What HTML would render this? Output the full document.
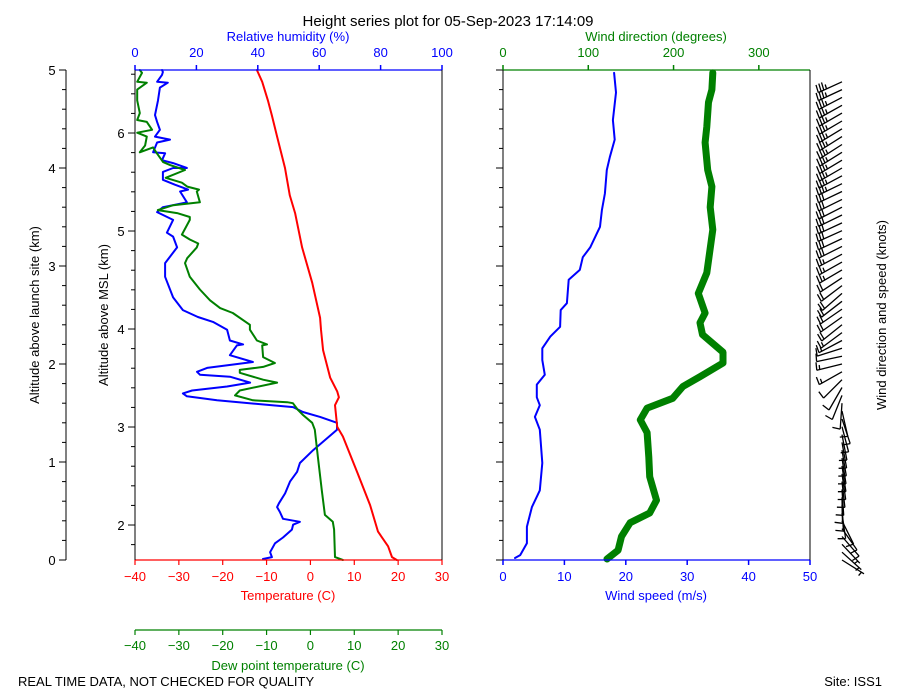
<!DOCTYPE html>
<html><head><meta charset="utf-8"><style>
html,body{margin:0;padding:0;background:#fff;}
svg{display:block;font-family:"Liberation Sans","DejaVu Sans",sans-serif;}
</style></head><body>
<svg id="chart" width="900" height="700" viewBox="0 0 900 700" xmlns="http://www.w3.org/2000/svg">
<text x="448" y="26" font-size="15" text-anchor="middle">Height series plot for 05-Sep-2023 17:14:09</text>
<g id="g"></g>
<text x="18" y="686" font-size="13">REAL TIME DATA, NOT CHECKED FOR QUALITY</text>
<text x="882" y="686" font-size="13" text-anchor="end">Site: ISS1</text>
</svg>
<script>
// ---- data (altitude above launch site, km) ----
const tempAlt = [0,0.03,0.14,0.29,0.56,0.88,1.26,1.36,1.58,1.66,1.72,1.86,2.14,2.35,2.47,2.83,3.19,3.54,3.72,4.0,4.32,4.54,4.69,4.88,5.0];
const tempVal = [19.7,18.6,17.7,15.4,13.6,10.8,7.4,6.1,5.6,6.5,6.1,4.5,2.9,2.4,2.2,0.4,-1.9,-3.5,-4.7,-5.8,-7.6,-8.8,-9.7,-11.0,-12.2];
const dewAlt = [0,0.03,0.31,0.39,0.46,0.71,1.05,1.33,1.40,1.48,1.53,1.60,1.61,1.63,1.68,1.73,1.81,1.84,1.91,1.94,1.97,2.01,2.07,2.19,2.20,2.24,2.35,2.40,2.52,2.57,2.65,2.76,2.89,3.03,3.08,3.19,3.23,3.27,3.32,3.47,3.50,3.54,3.57,3.62,3.65,3.76,3.78,3.81,3.85,3.90,3.98,4.03,4.06,4.15,4.21,4.16,4.23,4.32,4.36,4.39,4.47,4.49,4.56,4.69,4.80,4.87,4.88,4.97,5.0];
const dewVal = [7.4,5.6,5.4,5.1,3.3,2.6,1.7,1.0,0.4,-1.7,-2.8,-4.0,-5.3,-13.1,-17.2,-16.1,-7.6,-10.8,-16.1,-16.1,-10.8,-8.1,-10.8,-11.0,-9.9,-12.2,-13.8,-13.8,-17.7,-20.6,-22.9,-25.2,-27.5,-28.6,-28.1,-25.9,-25.6,-27.5,-29.3,-27.5,-27.5,-30.4,-34.8,-31.3,-25.2,-25.9,-25.4,-28.1,-29.3,-33.0,-28.6,-32.0,-33.6,-35.0,-35.9,-38.9,-37.7,-37.3,-39.5,-36.1,-37.3,-39.5,-38.9,-39.5,-39.5,-37.3,-39.5,-38.4,-38.9];
const rhAlt = [0.01,0.03,0.08,0.17,0.23,0.31,0.36,0.39,0.42,0.49,0.54,0.58,0.68,0.80,0.90,0.99,1.12,1.33,1.40,1.46,1.51,1.56,1.63,1.67,1.70,1.73,1.77,1.81,1.87,1.89,1.92,1.96,2.02,2.09,2.19,2.20,2.24,2.35,2.43,2.48,2.55,2.68,2.89,3.03,3.19,3.30,3.34,3.47,3.55,3.60,3.65,3.76,3.78,3.83,3.88,3.96,4.0,4.0,4.05,4.08,4.15,4.16,4.26,4.29,4.32,4.39,4.47,4.54,4.69,4.82,4.87,4.88,4.95,4.98,5.0];
const rhVal = [41.7,44.6,44.0,45.6,48.2,51.1,51.5,53.7,48.2,47.2,46.3,46.9,48.9,50.5,52.8,53.7,58.0,65.8,65.8,60.3,54.7,51.5,26.7,16.9,15.6,18.6,30.0,37.5,30.9,21.2,20.2,23.5,38.4,30.9,33.2,35.2,30.9,30.0,25.4,20.5,15.6,12.4,9.8,9.8,13.7,12.4,10.4,12.4,7.2,9.1,16.9,14.7,17.3,13.0,9.1,9.1,12.4,16.9,12.4,8.8,9.8,5.9,7.2,11.4,6.5,8.1,7.2,6.5,7.5,8.1,10.7,7.2,8.8,9.1,8.8];
const spdAlt = [0.02,0.05,0.17,0.34,0.54,0.71,0.99,1.33,1.46,1.58,1.66,1.79,1.89,2.04,2.16,2.28,2.38,2.55,2.62,2.86,2.96,3.09,3.19,3.40,3.57,3.74,3.98,4.11,4.29,4.49,4.77,4.97];
const spdVal = [1.95,2.8,3.9,3.9,4.7,6.0,6.4,6.0,5.2,6.0,5.5,5.5,6.8,6.4,6.4,7.7,9.3,9.4,10.4,10.7,12.5,13.0,14.2,15.8,16.1,16.6,16.9,17.4,18.2,17.9,18.4,18.1];
const dirAlt = [0.01,0.10,0.24,0.38,0.48,0.61,0.85,1.05,1.30,1.43,1.55,1.65,1.77,1.87,2.01,2.12,2.30,2.42,2.52,2.72,2.93,3.37,3.60,3.81,3.98,4.26,4.42,4.67,4.80,4.97];
const dirVal = [122,135,139,149,172,180,172,171,169,161,169,199,211,231,258,258,234,231,237,229,239,246,243,245,240,237,239,241,245,246];
const aglTicks = [0,1,2,3,4,5];
const mslTicks = [2,3,4,5,6];
const tempTicks = [-40,-30,-20,-10,0,10,20,30];
const rhTicks = [0,20,40,60,80,100];
const dirTicks = [0,100,200,300];
const spdTicks = [0,10,20,30,40,50];
const launchAlt = 1.643;

// ---- scales ----
const Y0=560, Y1=70, L0=135, L1=442, R0=503, R1=810;
const yA = a => Y0 - (a/5)*(Y0-Y1);
const xT = t => L0 + (t+40)/70*(L1-L0);
const xRH = r => L0 + r/100*(L1-L0);
const xSpd = s => R0 + s/50*(R1-R0);
const xDir = d => R0 + d/360*(R1-R0);

const NS="http://www.w3.org/2000/svg";
const G=document.getElementById('g');
function mk(tag, attrs){const e=document.createElementNS(NS,tag);for(const k in attrs)e.setAttribute(k,attrs[k]);G.appendChild(e);return e;}
function line(x1,y1,x2,y2,c,w){return mk('line',{x1,y1,x2,y2,stroke:c,'stroke-width':w||1});}
function txt(x,y,s,c,size,anchor,rot){const e=mk('text',{x,y,fill:c||'#000','font-size':size||13,'text-anchor':anchor||'middle'});if(rot)e.setAttribute('transform','rotate(-90 '+x+' '+y+')');e.textContent=s;return e;}
function poly(xs,ys,c,w){const pts=xs.map((x,i)=>x.toFixed(1)+','+ys[i].toFixed(1)).join(' ');return mk('polyline',{points:pts,fill:'none',stroke:c,'stroke-width':w,'stroke-linejoin':'round','stroke-linecap':'round'});}

// series
let e;
e=poly(rhVal.map(xRH),rhAlt.map(yA),'#0000ff',2);


e=poly(dewVal.map(xT),dewAlt.map(yA),'#008000',2);


e=poly(tempVal.map(xT),tempAlt.map(yA),'#ff0000',2);


e=poly(dirVal.map(xDir),dirAlt.map(yA),'#008000',7);


e=poly(spdVal.map(xSpd),spdAlt.map(yA),'#0000ff',2);



// spines
line(L0,Y1,L1,Y1,'#0000ff',1.2);line(L0,Y0,L1,Y0,'#ff0000',1.2);line(L0,Y1,L0,Y0,'#000',1);line(L1,Y1,L1,Y0,'#000',1);
line(R0,Y1,R1,Y1,'#008000',1.2);line(R0,Y0,R1,Y0,'#0000ff',1.2);line(R0,Y1,R0,Y0,'#000',1);line(R1,Y1,R1,Y0,'#000',1);
line(66,Y1,66,Y0,'#000',1);
line(L0,630,L1,630,'#008000',1.2);

// agl axis ticks
for(let i=0;i<=25;i++){const a=i*0.2,y=yA(a),maj=i%5===0;
 line(maj?59:62,y,66,y,'#000',1);
 line(R0-(maj?7:4),y,R0,y,'#000',1);}
aglTicks.forEach(a=>{e=txt(52,yA(a)+5,String(a),'#000',13);});
// msl ticks
for(let m=1.8;m<=6.7;m+=0.2){const y=yA(m-launchAlt);if(y<Y1-0.5||y>Y0+0.5)continue;const maj=Math.abs(m-Math.round(m))<0.01;line(L0-(maj?7:4),y,L0,y,'#000',1);}
mslTicks.forEach(m=>{e=txt(121,yA(m-launchAlt)+5,String(m),'#000',13);});
// temp ticks
tempTicks.forEach(t=>{const x=xT(t);line(x,Y0,x,Y0+5,'#ff0000',1.2);e=txt(x,581,String(t).replace('-','\u2212'),'#ff0000',13);
 line(x,630,x,635,'#008000',1.2);e=txt(x,650,String(t).replace('-','\u2212'),'#008000',13);});
rhTicks.forEach(r=>{const x=xRH(r);line(x,Y1-5,x,Y1,'#0000ff',1.5);e=txt(x,57,String(r),'#0000ff',13);});
dirTicks.forEach(d=>{const x=xDir(d);line(x,Y1-5,x,Y1,'#008000',1.5);e=txt(x,57,String(d),'#008000',13);});
spdTicks.forEach(s=>{const x=xSpd(s);line(x,Y0,x,Y0+5,'#0000ff',1.5);e=txt(x,581,String(s),'#0000ff',13);});

// axis titles
e=txt(288,41,'Relative humidity (%)','#0000ff',13);
e=txt(656,41,'Wind direction (degrees)','#008000',13);
e=txt(288,600,'Temperature (C)','#ff0000',13);
e=txt(288,670,'Dew point temperature (C)','#008000',13);
e=txt(656,600,'Wind speed (m/s)','#0000ff',13);
e=txt(39,315,'Altitude above launch site (km)','#000',13,'middle',true);
e=txt(108,315,'Altitude above MSL (km)','#000',13,'middle',true);
e=txt(886,315,'Wind direction and speed (knots)','#000',13,'middle',true);

// wind barbs
function interp(xs,ys,x){if(x<=xs[0])return ys[0];for(let i=1;i<xs.length;i++){if(x<=xs[i]){const f=(x-xs[i-1])/(xs[i]-xs[i-1]);return ys[i-1]+f*(ys[i]-ys[i-1]);}}return ys[ys.length-1];}
const bx=842, Ls=26;
for(let a=0;a<=4.94;a+=0.08){
 const d=interp(dirAlt,dirVal,a)*Math.PI/180, s=interp(spdAlt,spdVal,a)*1.944;
 const ox=bx, oy=yA(a);
 const ux=Math.sin(d), uy=-Math.cos(d); // screen vector toward from-direction
 const tipx=ox+Ls*ux, tipy=oy+Ls*uy;
 const g=document.createElementNS(NS,'g');
 
 
 G.appendChild(g);
 let path='M'+ox.toFixed(1)+','+oy.toFixed(1)+'L'+tipx.toFixed(1)+','+tipy.toFixed(1);
 const bxu=-ux, byu=-uy; // from tip back to origin
 const ang=Math.atan2(byu,bxu)-82*Math.PI/180;
 const fx=Math.cos(ang), fy=Math.sin(ang);
 let n=Math.round(s/5)*5, full=Math.floor(n/10), half=(n%10)>=5?1:0, pos=0;
 for(let k=0;k<full;k++){const px=tipx+bxu*pos,py=tipy+byu*pos;path+='M'+px.toFixed(1)+','+py.toFixed(1)+'l'+(fx*8).toFixed(1)+','+(fy*8).toFixed(1);pos+=3;}
 if(half){if(full===0)pos=3;const px=tipx+bxu*pos,py=tipy+byu*pos;path+='M'+px.toFixed(1)+','+py.toFixed(1)+'l'+(fx*4.5).toFixed(1)+','+(fy*4.5).toFixed(1);}
 const p=document.createElementNS(NS,'path');p.setAttribute('d',path);p.setAttribute('fill','none');p.setAttribute('stroke','#000');p.setAttribute('stroke-width','1.3');
 g.appendChild(p);
}
</script>
</body></html>
